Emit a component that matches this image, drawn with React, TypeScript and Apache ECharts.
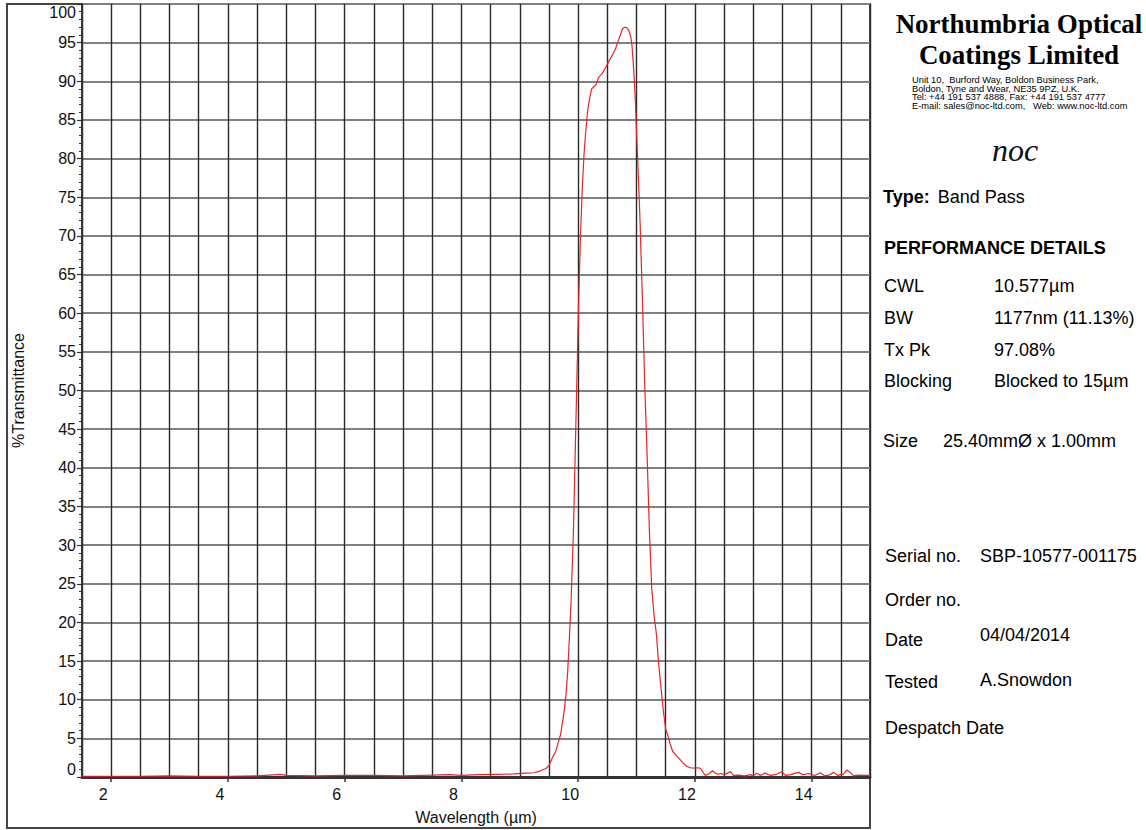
import React, { useEffect, useRef } from "react";
import * as echarts from "echarts";

// Wavelength (µm) and %Transmittance
const wavelength = [
  1.5, 2.0, 2.5, 3.0, 3.5, 4.0, 4.5, 4.9, 5.0, 5.5, 6.0, 6.5, 7.0, 7.5, 7.8, 8.0, 8.3, 8.6, 8.9, 9.1,
  9.25, 9.35, 9.45, 9.5, 9.56, 9.62, 9.66, 9.7, 9.73, 9.76, 9.79, 9.82, 9.85, 9.88, 9.92, 9.95, 9.98,
  10.01, 10.04, 10.07, 10.1, 10.13, 10.16, 10.19, 10.23, 10.27, 10.31, 10.35, 10.4, 10.45, 10.5, 10.55,
  10.6, 10.64, 10.68, 10.72, 10.76, 10.8, 10.84, 10.87, 10.9, 10.92, 10.94, 10.96, 10.98, 11.0, 11.03,
  11.06, 11.1, 11.14, 11.18, 11.22, 11.26, 11.3, 11.34, 11.38, 11.42, 11.46, 11.5, 11.54, 11.58, 11.62,
  11.68, 11.74, 11.8, 11.86, 11.92, 12.0, 12.06, 12.1, 12.15, 12.18, 12.24, 12.3, 12.35, 12.4, 12.44,
  12.5, 12.56, 12.61, 12.66, 12.75, 12.85, 12.95, 13.0, 13.06, 13.12, 13.2, 13.3, 13.4, 13.49, 13.55,
  13.65, 13.72, 13.78, 13.85, 13.95, 14.05, 14.15, 14.22, 14.3, 14.38, 14.45, 14.55, 14.6, 14.66, 14.72,
  14.8, 14.9, 15.0,
];
const transmittance = [
  0.1, 0.1, 0.1, 0.15, 0.1, 0.1, 0.15, 0.35, 0.2, 0.15, 0.2, 0.2, 0.15, 0.25, 0.3, 0.2, 0.3, 0.35, 0.4, 0.5,
  0.55, 0.8, 1.1, 1.5, 2.5, 3.4, 4.5, 5.5, 7.0, 8.5, 10.5, 13.5, 18, 23, 32, 42, 52,
  62, 70, 76, 80.5, 83.5, 86, 87.5, 89.0, 89.3, 89.6, 90.5, 90.9, 91.5, 92.2, 92.9,
  93.6, 94.2, 95.1, 95.9, 96.8, 97.0, 96.9, 96.5, 95.8, 94.8, 92.8, 90.5, 87.5, 83.5, 78,
  72, 62, 51, 42, 32, 24.5, 21, 18.5, 14.6, 11.5, 8.5, 6.2, 5.3, 4.2, 3.3,
  2.8, 2.3, 1.8, 1.4, 1.2, 1.15, 1.2, 1.1, 0.5, 0.2, 0.4, 0.8, 0.5, 0.35, 0.45,
  0.3, 0.5, 0.7, 0.2, 0.25, 0.15, 0.3, 0.15, 0.5, 0.2, 0.5, 0.2, 0.35, 0.7, 0.2,
  0.3, 0.5, 0.6, 0.3, 0.45, 0.2, 0.55, 0.15, 0.25, 0.6, 0.2, 0.4, 0.9, 0.6, 0.15,
  0.25, 0.2, 0.2,
];
const xLabelValues = [2, 4, 6, 8, 10, 12, 14];

const companyLines = ["Northumbria Optical", "Coatings Limited"];
const addressLines = [
  "Unit 10,  Burford Way, Boldon Business Park,",
  "Boldon, Tyne and Wear, NE35 9PZ, U.K.",
  "Tel: +44 191 537 4888, Fax: +44 191 537 4777",
  "E-mail: sales@noc-ltd.com,   Web: www.noc-ltd.com",
];
const perfLabels = ["CWL", "BW", "Tx Pk", "Blocking"];
const perfValues = ["10.577\u00b5m", "1177nm (11.13%)", "97.08%", "Blocked to 15\u00b5m"];
const recordLabels = ["Serial no.", "Order no.", "Date", "Tested", "Despatch Date"];
const recordValues = ["SBP-10577-001175", "", "04/04/2014", "A.Snowdon", ""];

const SANS = "'Liberation Sans', Arial, Helvetica, sans-serif";
const SERIF = "'Liberation Serif', 'Times New Roman', serif";
const FS = 18;

export default function App() {
  const ref = useRef<HTMLDivElement>(null);
  useEffect(() => {
    if (!ref.current) return;
    const chart = echarts.init(ref.current, null, { renderer: "svg" });
    const data = wavelength.map((w, i) => [w, transmittance[i]]);

    const perfY = [286, 318, 350, 381];
    const recLabelY = [556, 600, 640, 682, 728];
    const recValueY = [556, 600, 635, 680, 728];

    const txt = (t: string, x: number, y: number, font: string) => ({
      type: "text",
      x,
      y,
      style: { text: t, font, fill: "#000", align: "left", verticalAlign: "middle" },
    });

    const graphic: any[] = [
      {
        type: "rect",
        silent: true,
        z: 0,
        shape: { x: 7, y: 4, width: 863, height: 824 },
        style: { fill: "none", stroke: "#444", lineWidth: 2 },
      },
      ...companyLines.map((t, i) => ({
        type: "text",
        x: 1019,
        y: 24 + i * 31,
        style: {
          text: t,
          font: `bold 27px ${SERIF}`,
          fill: "#000",
          align: "center",
          verticalAlign: "middle",
        },
      })),
      ...addressLines.map((t, i) => ({
        type: "text",
        x: 912,
        y: 80 + i * 8.5,
        style: { text: t, font: `9.3px ${SANS}`, fill: "#000", align: "left", verticalAlign: "middle" },
      })),
      {
        type: "text",
        x: 1015,
        y: 150,
        style: { text: "noc", font: `italic 32px ${SERIF}`, fill: "#111", align: "center", verticalAlign: "middle" },
      },
      {
        type: "text",
        x: 883,
        y: 197,
        style: {
          text: "{b|Type:}{n|Band Pass}",
          align: "left",
          verticalAlign: "middle",
          rich: {
            b: { font: `bold 18px ${SANS}`, fill: "#000" },
            n: { font: `${FS}px ${SANS}`, fill: "#000", padding: [0, 0, 0, 8] },
          },
        },
      },
      txt("PERFORMANCE DETAILS", 884, 248, `bold 18px ${SANS}`),
      ...perfLabels.map((t, i) => txt(t, 884, perfY[i], `${FS}px ${SANS}`)),
      ...perfValues.map((t, i) => txt(t, 994, perfY[i], `${FS}px ${SANS}`)),
      txt("Size", 883, 441, `${FS}px ${SANS}`),
      txt("25.40mm\u00d8 x 1.00mm", 943, 441, `${FS}px ${SANS}`),
      ...recordLabels.map((t, i) => txt(t, 885, recLabelY[i], `${FS}px ${SANS}`)),
      ...recordValues
        .map((t, i) => ({ t, i }))
        .filter((o) => o.t)
        .map((o) => txt(o.t, 980, recValueY[o.i], `${FS}px ${SANS}`)),
    ];

    chart.setOption({
      animation: false,
      backgroundColor: "#fff",
      grid: { left: 82, top: 4, right: 276, bottom: 50, containLabel: false },
      xAxis: [
        {
          type: "value",
          min: 1.5,
          max: 15,
          interval: 0.5,
          name: "Wavelength (\u00b5m)",
          nameLocation: "middle",
          nameGap: 32,
          nameTextStyle: { fontFamily: SANS, fontSize: 16, color: "#111" },
          axisLine: { show: true, onZero: false, lineStyle: { color: "#333", width: 3 } },
          axisTick: { show: true, customValues: xLabelValues, length: 5, lineStyle: { color: "#333", width: 1.5 } },
          axisLabel: {
            customValues: xLabelValues,
            fontFamily: SANS,
            fontSize: 16,
            color: "#111",
            margin: 9,
            padding: [0, 16, 0, 0],
          },
          splitLine: { show: false },
          z: 3,
        },
        {
          type: "value",
          min: 1.5,
          max: 15,
          interval: 0.5,
          position: "bottom",
          axisLine: { show: false },
          axisTick: { show: false },
          axisLabel: { show: false },
          splitLine: { show: true, lineStyle: { color: "#2a2a2a", width: 1.4 } },
        },
      ],
      yAxis: {
        type: "value",
        min: 0,
        max: 100,
        interval: 5,
        name: "%Transmittance",
        nameLocation: "middle",
        nameGap: 56,
        nameTextStyle: { fontFamily: SANS, fontSize: 16, color: "#111" },
        axisLine: { show: true, onZero: false, lineStyle: { color: "#333", width: 2 } },
        axisTick: { show: true, length: 5, lineStyle: { color: "#333", width: 1.2 } },
        minorTick: { show: true, splitNumber: 5, length: 3, lineStyle: { color: "#333", width: 1 } },
        axisLabel: {
          fontFamily: SANS,
          fontSize: 16,
          color: "#111",
          margin: 6,
          verticalAlignMaxLabel: "top",
          verticalAlignMinLabel: "bottom",
        },
        splitLine: { show: true, lineStyle: { color: "#808080", width: 2 } },
      },
      series: [
        {
          type: "line",
          xAxisIndex: 0,
          data,
          showSymbol: false,
          smooth: false,
          lineStyle: { color: "#e02828", width: 1.2 },
          z: 5,
        },
      ],
      graphic,
    });
    return () => chart.dispose();
  }, []);
  return (
    <div
      ref={ref}
      style={{ position: "fixed", left: 0, top: 0, width: 1146, height: 830, background: "#fff" }}
    />
  );
}
